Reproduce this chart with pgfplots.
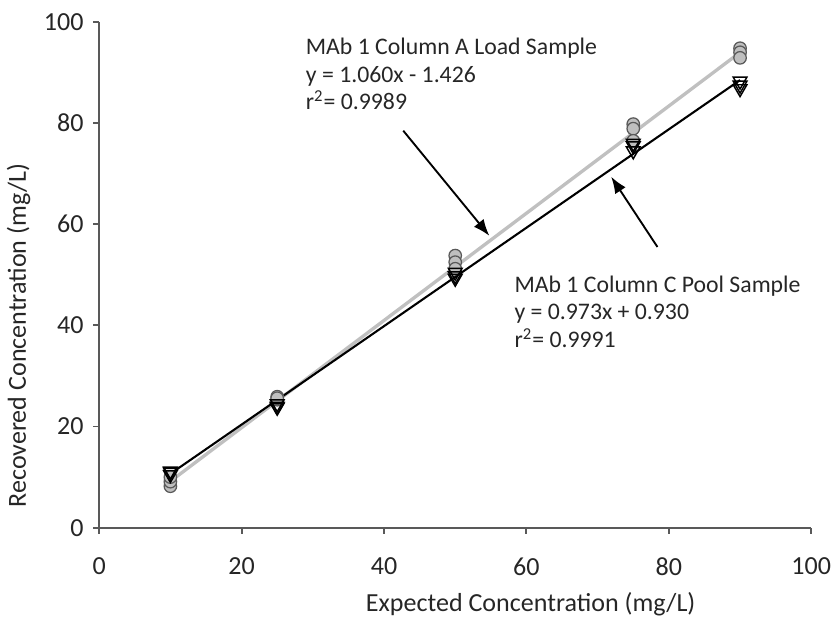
\documentclass[border=0pt]{standalone}
\usepackage{pgfplots}
\pgfplotsset{compat=1.18}
\usepackage{fontspec}
\setmainfont{Carlito}
\usetikzlibrary{arrows.meta}

\definecolor{axisgray}{HTML}{595959}
\definecolor{txtgray}{HTML}{262626}
\definecolor{fitgray}{HTML}{C0C0C0}
\definecolor{dotfill}{HTML}{BFBFBF}

% Column A load sample (circles)
\pgfplotstableread{
x y
10 8.2
10 9.1
10 10.0
25 25.3
25 25.9
25 25.6
50 53.8
50 52.5
50 51.2
75 79.8
75 78.9
75 76.5
90 94.8
90 94.0
90 92.9
}\loadA

% Column C pool sample (triangles)
\pgfplotstableread{
x y
10 11.2
10 11.0
10 10.5
25 24.0
25 24.5
25 23.8
50 49.3
50 49.8
50 50.5
75 74.5
75 75.5
75 76.0
90 88.3
90 87.5
90 86.8
}\poolC

\begin{document}
\begin{tikzpicture}[font=\fontsize{12.5}{15}\selectfont]
\begin{axis}[
    scale only axis,
    width=12.01cm,
    height=8.53cm,
    xmin=0, xmax=100,
    ymin=0, ymax=100,
    axis x line=bottom,
    axis y line=left,
    axis line style={axisgray, line width=0.9pt, -},
    xtick={0,20,...,100},
    ytick={0,20,...,100},
    tick style={axisgray, line width=0.9pt},
    tick align=outside,
    major tick length=0.1cm,
    minor tick num=0,
    every tick label/.append style={text=txtgray},
    /pgf/number format/assume math mode=true,
    xticklabel style={yshift=-0.28cm},
    yticklabel style={xshift=-0.04cm},
    xlabel={Expected Concentration (mg/L)},
    ylabel={Recovered Concentration (mg/L)},
    xlabel style={at={(axis description cs:0.606,-0.151)}, anchor=center, text=txtgray},
    ylabel style={at={(axis description cs:-0.113,0.38)}, anchor=center, text=txtgray},
    clip=false,
]

% trend lines
\addplot[fitgray, line width=1.6pt] coordinates {(10,9.174) (90,93.974)};
\addplot[black, line width=1.0pt] coordinates {(10,10.66) (90,88.50)};

\addplot[only marks, mark=*, mark size=3.0pt,
    mark options={fill=dotfill, draw=axisgray, line width=0.6pt}] table {\loadA};
\addplot[only marks, mark=triangle, mark size=3.8pt,
    mark options={rotate=180, fill=white, draw=black, line width=0.7pt}] table {\poolC};

% annotations
\node[anchor=west, align=left, text=txtgray, font=\fontsize{11.4}{13.2}\selectfont]
    at (axis cs:28.0,89.7) {MAb 1 Column A Load Sample\\y = 1.060x - 1.426\\r\textsuperscript{2}= 0.9989};
\node[anchor=west, align=left, text=txtgray, font=\fontsize{11.4}{13.2}\selectfont]
    at (axis cs:57.3,42.7) {MAb 1 Column C Pool Sample\\y = 0.973x + 0.930\\r\textsuperscript{2}= 0.9991};

\draw[black, line width=0.9pt, -{Latex[length=8pt, width=6pt]}]
    (axis cs:42.7,78.5) -- (axis cs:54.8,57.7);
\draw[black, line width=0.9pt, -{Latex[length=8pt, width=6pt]}]
    (axis cs:78.4,55.5) -- (axis cs:71.9,69.4);

% page frame to match reference margins
\path (rel axis cs:0,0) ++(-1.67cm,-1.40cm) coordinate (bbl);
\path (rel axis cs:1,1) ++(0.32cm,0.37cm) coordinate (btr);
\end{axis}
\useasboundingbox (bbl) rectangle (btr);
\end{tikzpicture}
\end{document}
